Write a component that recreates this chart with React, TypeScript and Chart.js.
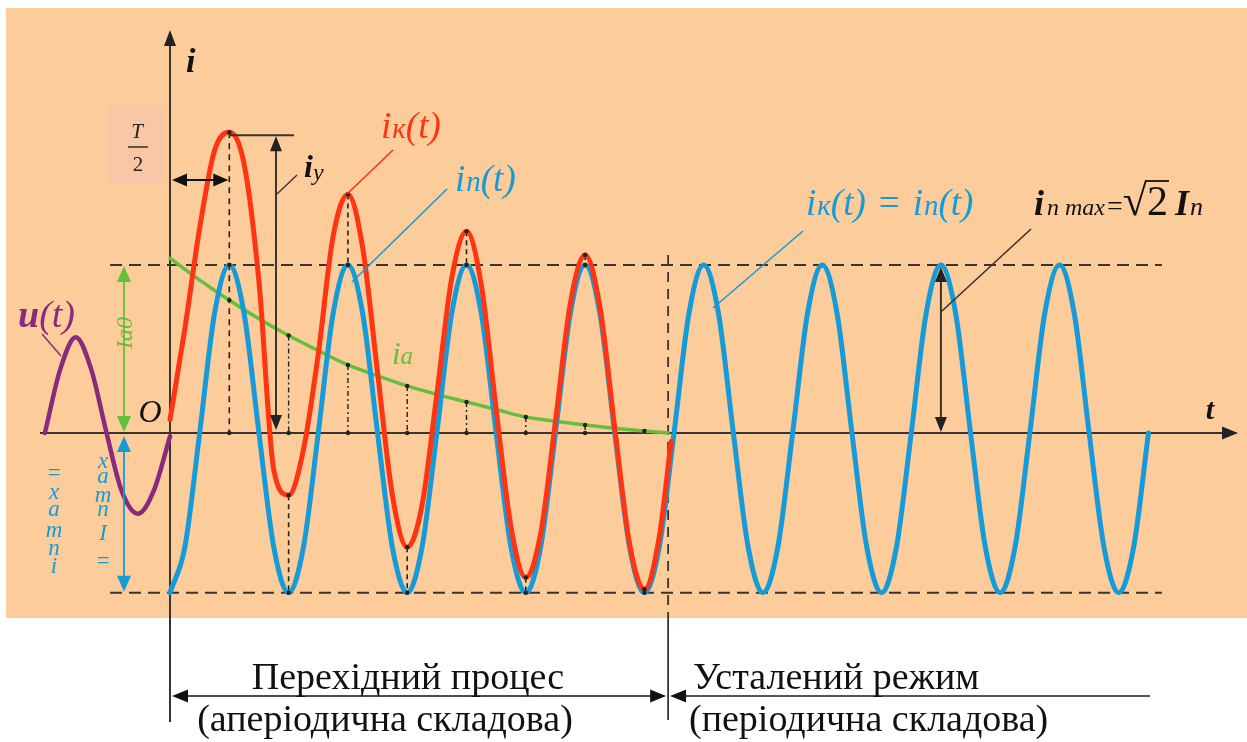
import { useEffect, useRef } from "react";
import { Chart, registerables } from "chart.js";

Chart.register(...registerables);

const W = 1247;
const H = 742;

// time axis in ms (50 Hz, T = 20 ms), current axis in units of the periodic amplitude
const timeRange = [-28.67, 181.62];
const currentRange = [-1.839, 2.577];

// periodic component iп(t) (blue)
const steadyTimes = [
  0, 2.5, 5, 7.5, 10, 12.5, 15, 17.5, 20, 22.5, 25, 27.5, 30, 32.5, 35, 37.5,
  40, 42.5, 45, 47.5, 50, 52.5, 55, 57.5, 60, 62.5, 65, 67.5, 70, 72.5, 75, 77.5,
  80, 82.5, 85, 87.5, 90, 92.5, 95, 97.5, 100, 102.5, 105, 107.5, 110, 112.5, 115, 117.5,
  120, 122.5, 125, 127.5, 130, 132.5, 135, 137.5, 140, 142.5, 145, 147.5, 150, 152.5, 155, 157.5,
  160, 162.5, 165,
];
const steadyCurrent = [
  -0.95, -0.68, 0, 0.71, 1, 0.71, 0, -0.68, -0.95, -0.68, 0, 0.71, 1, 0.71, 0, -0.68,
  -0.95, -0.68, 0, 0.71, 1, 0.71, 0, -0.68, -0.95, -0.68, 0, 0.71, 1, 0.71, 0, -0.68,
  -0.95, -0.68, 0, 0.71, 1, 0.71, 0, -0.68, -0.95, -0.68, 0, 0.71, 1, 0.71, 0, -0.68,
  -0.95, -0.68, 0, 0.71, 1, 0.71, 0, -0.68, -0.95, -0.68, 0, 0.71, 1, 0.71, 0, -0.68,
  -0.95, -0.68, 0,
];

// short-circuit current iк(t) (red)
const shortCircuitTimes = [
  0, 2.5, 5, 7.5, 10, 12.5, 15, 17.5, 20, 22.5, 25, 27.5, 30, 32.5, 35, 37.5,
  40, 42.5, 45, 47.5, 50, 52.5, 55, 57.5, 60, 62.5, 65, 67.5, 70, 72.5, 75, 77.5,
  80, 82.5, 84.5,
];
const shortCircuitCurrent = [
  0.08, 0.62, 1.22, 1.68, 1.79, 1.6, 0.9, -0.22, -0.37, -0.1, 0.47, 1.17, 1.42, 1.1, 0.36, -0.37,
  -0.68, -0.43, 0.23, 0.92, 1.2, 0.88, 0.14, -0.56, -0.86, -0.6, 0.07, 0.77, 1.06, 0.75, 0.03, -0.66,
  -0.93, -0.62, -0.05,
];

// aperiodic component ia (green)
const aperiodicTimes = [0, 5, 10, 15, 20, 25, 30, 35, 40, 45, 50, 55, 60, 65, 70, 75, 80, 84];
const aperiodicCurrent = [
  1.04, 0.91, 0.79, 0.68, 0.58, 0.49, 0.405, 0.34, 0.28, 0.23, 0.185, 0.14, 0.095, 0.07, 0.048,
  0.028, 0.012, 0,
];

// voltage u(t) (purple)
const voltageTimes = [-21.1, -18.5, -15.9, -13.3, -10.7, -8.2, -5.4, -2.7, 0];
const voltageValues = [0, 0.38, 0.57, 0.38, 0, -0.34, -0.48, -0.34, -0.02];

// instants where the red curve has its extrema (marked with dashed lines)
const extremaTimes = [10, 20, 30, 40, 50, 60, 70, 80];

const bottomLabels = [
  "Перехідний процес",
  "(аперіодична складова)",
  "Усталений режим",
  "(періодична складова)",
];

const PEACH = "#fdcc9b";
const BOX = "#f9c7a5";
const INK = "#3a332e";
const BLUE = "#159bd8";
const RED = "#ff3412";
const GREEN = "#63bf3c";
const PURPLE = "#8a2a7c";
const SERIF = "'Liberation Serif', 'Times New Roman', serif";

function valueAt(ts: number[], vs: number[], t: number): number {
  const i = ts.indexOf(t);
  return i >= 0 ? vs[i] : 0;
}

function head(ctx: CanvasRenderingContext2D, x: number, y: number, dx: number, dy: number, len: number, hw: number, color: string) {
  const nx = -dy;
  const ny = dx;
  ctx.fillStyle = color;
  ctx.beginPath();
  ctx.moveTo(x, y);
  ctx.lineTo(x - dx * len + nx * hw, y - dy * len + ny * hw);
  ctx.lineTo(x - dx * len - nx * hw, y - dy * len - ny * hw);
  ctx.closePath();
  ctx.fill();
}

function line(ctx: CanvasRenderingContext2D, x1: number, y1: number, x2: number, y2: number, color: string, w: number, dash: number[] = []) {
  ctx.strokeStyle = color;
  ctx.lineWidth = w;
  ctx.setLineDash(dash);
  ctx.beginPath();
  ctx.moveTo(x1, y1);
  ctx.lineTo(x2, y2);
  ctx.stroke();
  ctx.setLineDash([]);
}

type Part = { t: string; f: string; dy?: number; gap?: number };
function rich(ctx: CanvasRenderingContext2D, x: number, y: number, parts: Part[], color: string) {
  let cx = x;
  ctx.fillStyle = color;
  ctx.textAlign = "left";
  ctx.textBaseline = "alphabetic";
  for (const p of parts) {
    ctx.font = p.f;
    ctx.fillText(p.t, cx, y + (p.dy || 0));
    cx += ctx.measureText(p.t).width + (p.gap || 0);
  }
  return cx;
}

function dot(ctx: CanvasRenderingContext2D, x: number, y: number) {
  ctx.fillStyle = "#222";
  ctx.beginPath();
  ctx.arc(x, y, 2.2, 0, Math.PI * 2);
  ctx.fill();
}

const it = (s: number) => `italic ${s}px ${SERIF}`;
const ib = (s: number) => `italic bold ${s}px ${SERIF}`;
const rg = (s: number) => `${s}px ${SERIF}`;

const decor = {
  id: "decor",
  beforeDraw(chart: any) {
    const ctx: CanvasRenderingContext2D = chart.ctx;
    ctx.save();
    ctx.fillStyle = "#ffffff";
    ctx.fillRect(0, 0, W, H);
    ctx.fillStyle = PEACH;
    ctx.fillRect(6, 8, W - 6, 610);
    ctx.fillStyle = BOX;
    ctx.fillRect(108, 105, 54, 78);
    ctx.restore();
  },
  beforeDatasetsDraw(chart: any) {
    const ctx: CanvasRenderingContext2D = chart.ctx;
    const xs = chart.scales.x;
    const ys = chart.scales.y;
    const px = (t: number) => xs.getPixelForValue(t);
    const py = (v: number) => ys.getPixelForValue(v);
    const peak = Math.max(...steadyCurrent);
    const trough = Math.min(...steadyCurrent);
    const endT = aperiodicTimes[aperiodicTimes.length - 1];
    ctx.save();
    // amplitude dashed lines
    line(ctx, 110, py(peak), 1162, py(peak), INK, 2, [12, 7]);
    line(ctx, 110, py(trough), 1162, py(trough), INK, 2, [12, 7]);
    // end of transient
    line(ctx, px(endT), 255, px(endT), 615, INK, 1.8, [10, 7]);
    line(ctx, px(endT), 615, px(endT), 720, INK, 1.8);
    // time axis
    line(ctx, 40, py(0), 1226, py(0), INK, 2);
    head(ctx, 1238, py(0), 1, 0, 16, 6.5, "#222");
    // current axis
    line(ctx, px(0), 722, px(0), 40, INK, 2);
    head(ctx, px(0), 30, 0, -1, 16, 6, "#222");
    // dashed markers at extrema
    extremaTimes.forEach((t, k) => {
      const x = px(t);
      const r = valueAt(shortCircuitTimes, shortCircuitCurrent, t);
      const b = valueAt(steadyTimes, steadyCurrent, t);
      const g = valueAt(aperiodicTimes, aperiodicCurrent, t);
      if (k === 0) {
        line(ctx, x, py(r), x, py(0), "#222", 1.6, [6, 5]);
      } else {
        line(ctx, x, py(r), x, py(b), "#222", 1.6, [5, 4]);
        line(ctx, x, py(g), x, py(0), "#222", 1.4, [5, 3, 2, 3]);
      }
    });
    ctx.restore();
  },
  afterDatasetsDraw(chart: any) {
    const ctx: CanvasRenderingContext2D = chart.ctx;
    const xs = chart.scales.x;
    const ys = chart.scales.y;
    const px = (t: number) => xs.getPixelForValue(t);
    const py = (v: number) => ys.getPixelForValue(v);
    const peak = Math.max(...steadyCurrent);
    const trough = Math.min(...steadyCurrent);
    const endT = aperiodicTimes[aperiodicTimes.length - 1];
    const redPeak = valueAt(shortCircuitTimes, shortCircuitCurrent, extremaTimes[0]);
    ctx.save();

    // dots at marker ends
    extremaTimes.forEach((t, k) => {
      const x = px(t);
      dot(ctx, x, py(valueAt(shortCircuitTimes, shortCircuitCurrent, t)));
      dot(ctx, x, py(valueAt(steadyTimes, steadyCurrent, t)));
      dot(ctx, x, py(valueAt(aperiodicTimes, aperiodicCurrent, t)));
      if (k < 7) dot(ctx, x, py(0));
    });

    // T/2 double arrow
    const yT = 180;
    line(ctx, px(0) + 14, yT, px(extremaTimes[0]) - 14, yT, "#111", 2);
    head(ctx, px(0) + 2, yT, -1, 0, 15, 6.5, "#111");
    head(ctx, px(extremaTimes[0]) - 1, yT, 1, 0, 15, 6.5, "#111");
    ctx.fillStyle = "#222";
    ctx.textAlign = "center";
    ctx.font = it(21);
    ctx.fillText("T", 137, 138);
    line(ctx, 128, 147, 148, 147, "#222", 1.4);
    ctx.font = rg(21);
    ctx.fillText("2", 138, 171);

    // iy arrow
    const xY = 276;
    line(ctx, px(extremaTimes[0]), py(redPeak) + 3, 294, py(redPeak) + 3, INK, 2);
    line(ctx, xY, py(redPeak) + 16, xY, py(0) - 16, INK, 2);
    head(ctx, xY, py(redPeak) + 4, 0, -1, 15, 6, "#222");
    head(ctx, xY, py(0) - 3, 0, 1, 15, 6, "#222");
    line(ctx, 297, 175, 277, 194, INK, 1.4);
    rich(ctx, 304, 177, [{ t: "i", f: ib(32) }, { t: "y", f: it(24), dy: 3 }], "#111");

    // amplitude arrows on the left
    const xa = 124;
    line(ctx, xa, py(peak) + 12, xa, py(0) - 12, GREEN, 1.8);
    head(ctx, xa, py(peak) + 1, 0, -1, 16, 7, GREEN);
    head(ctx, xa, py(0) - 1, 0, 1, 16, 7, GREEN);
    line(ctx, xa, py(0) + 12, xa, py(trough) - 12, BLUE, 1.8);
    head(ctx, xa, py(0) + 3, 0, -1, 16, 7, BLUE);
    head(ctx, xa, py(trough) - 1, 0, 1, 16, 7, BLUE);
    ctx.save();
    ctx.translate(xa, 333);
    ctx.rotate(-Math.PI / 2);
    ctx.fillStyle = GREEN;
    ctx.textAlign = "center";
    ctx.font = it(24);
    ctx.fillText("Ia0", 0, 8);
    ctx.restore();
    ctx.fillStyle = BLUE;
    ctx.textAlign = "center";
    ctx.font = it(23);
    const col1 = ["=", "x", "a", "m", "п", "i"];
    const col1y = [480, 499, 516, 537, 555, 573];
    col1.forEach((c, i) => ctx.fillText(c, 54, col1y[i]));
    const col2 = ["x", "a", "m", "п", "I", "="];
    const col2y = [468, 483, 502, 516, 540, 568];
    col2.forEach((c, i) => ctx.fillText(c, 103, col2y[i]));

    // in max arrow
    const tMax = 130;
    line(ctx, px(tMax), py(peak) + 14, px(tMax), py(0) - 14, INK, 2);
    head(ctx, px(tMax), py(peak) + 2, 0, -1, 15, 6, "#222");
    head(ctx, px(tMax), py(0) - 1, 0, 1, 15, 6, "#222");

    // leaders
    line(ctx, 393, 150, 347, 194, RED, 1.6);
    line(ctx, 447, 189, 352, 282, BLUE, 1.6);
    line(ctx, 803, 231, 713, 308, BLUE, 1.6);
    line(ctx, 1031, 229, px(tMax), 312, INK, 1.6);
    line(ctx, 42, 334, 61, 356, PURPLE, 1.5);

    // labels
    rich(ctx, 186, 72, [{ t: "i", f: ib(34) }], "#111");
    rich(ctx, 381, 138, [{ t: "i", f: it(37), gap: 1 }, { t: "к", f: it(29) }, { t: "(t)", f: it(37) }], RED);
    rich(ctx, 455, 191, [{ t: "i", f: it(37), gap: 1 }, { t: "п", f: it(29) }, { t: "(t)", f: it(37) }], BLUE);
    rich(
      ctx,
      806,
      215,
      [
        { t: "i", f: it(37), gap: 1 },
        { t: "к", f: it(29) },
        { t: "(t)", f: it(37), gap: 13 },
        { t: "=", f: rg(37), gap: 13 },
        { t: "i", f: it(37), gap: 1 },
        { t: "п", f: it(29) },
        { t: "(t)", f: it(37) },
      ],
      BLUE
    );
    const afterEq = rich(
      ctx,
      1034,
      215,
      [
        { t: "i", f: ib(36), gap: 3 },
        { t: "п", f: it(24), gap: 6 },
        { t: "max", f: it(24), gap: 2 },
        { t: "=", f: rg(28) },
        { t: "√", f: rg(44) },
      ],
      "#111"
    );
    ctx.font = rg(42);
    const w2 = ctx.measureText("2").width;
    ctx.fillStyle = "#111";
    ctx.fillText("2", afterEq, 215);
    line(ctx, afterEq - 2, 181, afterEq + w2 + 1, 181, "#111", 1.8);
    rich(ctx, afterEq + w2 + 7, 215, [{ t: "I", f: ib(36), gap: 1 }, { t: "п", f: it(26) }], "#111");

    rich(ctx, 392, 364, [{ t: "i", f: it(31) }, { t: "a", f: it(25) }], GREEN);
    rich(ctx, 18, 327, [{ t: "u", f: ib(38) }, { t: "(t)", f: it(38) }], PURPLE);
    ctx.fillStyle = "#111";
    ctx.textAlign = "center";
    ctx.font = it(32);
    ctx.fillText("O", 150, 422);
    ctx.font = ib(30);
    ctx.fillText("t", 1210, 419);

    // bottom brackets
    const yb = 696;
    line(ctx, px(0) + 14, yb, px(endT) - 16, yb, "#111", 1.6);
    head(ctx, px(0) + 2, yb, -1, 0, 16, 6.5, "#111");
    head(ctx, px(endT) - 2, yb, 1, 0, 16, 6.5, "#111");
    line(ctx, px(endT) + 16, yb, 1150, yb, "#555", 2);
    head(ctx, px(endT) + 2, yb, -1, 0, 16, 6.5, "#111");

    ctx.fillStyle = "#111";
    ctx.font = rg(38);
    ctx.textAlign = "center";
    ctx.fillText(bottomLabels[0], 408, 689);
    ctx.fillText(bottomLabels[1], 385, 731);
    ctx.textAlign = "left";
    ctx.fillText(bottomLabels[2], 693, 689);
    ctx.fillText(bottomLabels[3], 689, 731);
    ctx.restore();
  },
};

export default function App() {
  const ref = useRef<HTMLCanvasElement>(null);
  useEffect(() => {
    const canvas = ref.current;
    if (!canvas) return;
    const toXY = (ts: number[], vs: number[]) => ts.map((t, i) => ({ x: t, y: vs[i] }));
    const chart = new Chart(canvas, {
      type: "line",
      data: {
        datasets: [
          { label: "iк(t)", data: toXY(shortCircuitTimes, shortCircuitCurrent), borderColor: RED, borderWidth: 5 },
          { label: "iп(t)", data: toXY(steadyTimes, steadyCurrent), borderColor: BLUE, borderWidth: 5 },
          { label: "ia", data: toXY(aperiodicTimes, aperiodicCurrent), borderColor: GREEN, borderWidth: 3.5 },
          { label: "u(t)", data: toXY(voltageTimes, voltageValues), borderColor: PURPLE, borderWidth: 4.5 },
        ],
      },
      options: {
        responsive: false,
        animation: false,
        devicePixelRatio: 1,
        events: [],
        layout: { padding: 0 },
        elements: {
          point: { radius: 0 },
          line: { cubicInterpolationMode: "monotone", borderCapStyle: "round", borderJoinStyle: "round", fill: false },
        },
        scales: {
          x: { type: "linear", min: timeRange[0], max: timeRange[1], display: false },
          y: { type: "linear", min: currentRange[0], max: currentRange[1], display: false },
        },
        plugins: { legend: { display: false }, tooltip: { enabled: false }, title: { display: false } },
      },
      plugins: [decor],
    } as any);
    return () => chart.destroy();
  }, []);
  return (
    <div style={{ position: "absolute", left: 0, top: 0, width: W, height: H }}>
      <canvas ref={ref} width={W} height={H} style={{ display: "block", width: W, height: H }} />
    </div>
  );
}
